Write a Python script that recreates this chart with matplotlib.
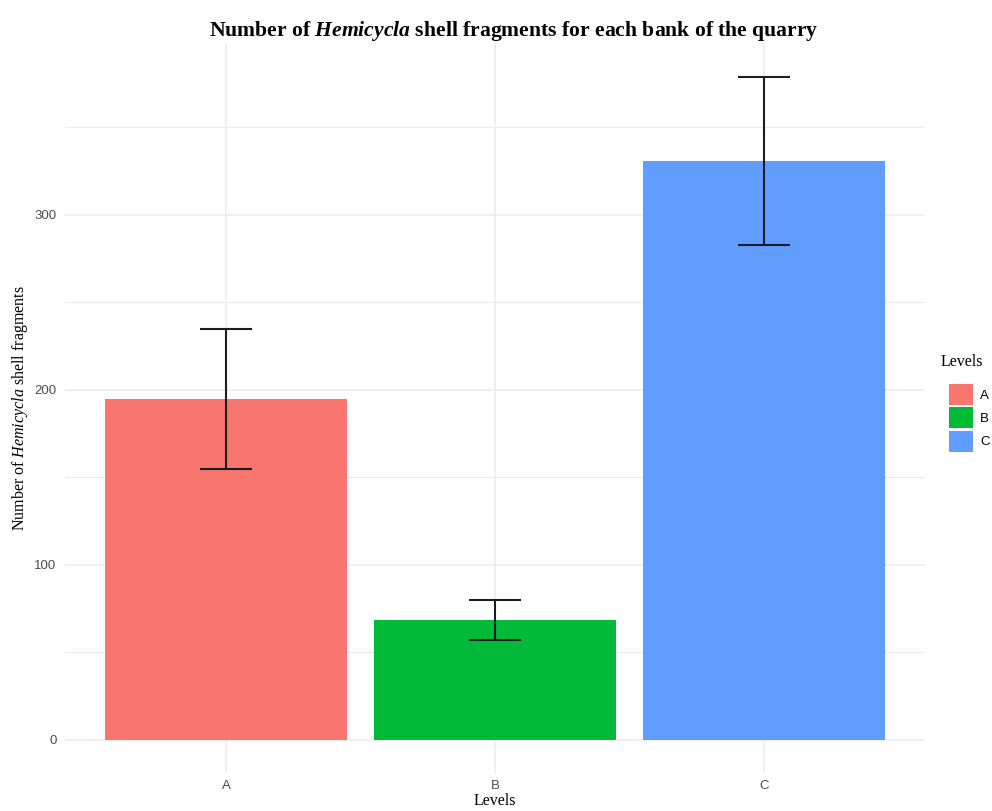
import numpy as np
import matplotlib.pyplot as plt
from matplotlib.patches import Patch

plt.rcParams['font.family'] = ['Liberation Serif', 'DejaVu Serif']
plt.rcParams['mathtext.fontset'] = 'custom'
plt.rcParams['mathtext.rm'] = 'Liberation Serif'
plt.rcParams['mathtext.it'] = 'Liberation Serif:italic'
plt.rcParams['mathtext.bf'] = 'Liberation Serif:bold'
plt.rcParams['mathtext.bfit'] = 'Liberation Serif:italic:bold'

# shell fragment counts per bank, with error half-widths
levels = ['A', 'B', 'C']
counts = [195, 68.5, 331]
errors = [40, 11.5, 48]
colors = ['#F8766D', '#00BA38', '#619CFF']

fig = plt.figure(figsize=(9.92, 8.11), dpi=100)
ax = fig.add_axes([0.0655, 0.0469, 0.867, 0.8995])

x = np.arange(1, len(levels) + 1)
ax.bar(x, counts, width=0.9, color=colors, zorder=2)
ax.errorbar(x, counts, yerr=errors, fmt='none', ecolor='#1c1c28',
            elinewidth=1.5, capsize=19, capthick=1.5, zorder=3)

top = max(c + e for c, e in zip(counts, errors))
ax.set_xlim(0.4, 3.6)
ax.set_ylim(-0.05 * top, 1.05 * top)

ax.set_xticks(x)
ax.set_xticklabels(levels)
ax.set_yticks([0, 100, 200, 300])
ax.set_yticks([50, 150, 250, 350], minor=True)
for lab in ax.get_xticklabels() + ax.get_yticklabels():
    lab.set_family('Liberation Sans')
    lab.set_fontsize(9.5)
    lab.set_color('#4D4D4D')
ax.tick_params(axis='both', which='both', length=0, pad=6)
ax.tick_params(axis='x', pad=5)

ax.grid(True, which='major', color='#EBEBEB', linewidth=1.1, zorder=0)
ax.grid(True, which='minor', axis='y', color='#EBEBEB', linewidth=0.9, zorder=0)
ax.set_axisbelow(True)
for s in ax.spines.values():
    s.set_visible(False)

ax.set_xlabel('Levels', fontsize=11.5, labelpad=1)
ax.set_ylabel(r'Number of $\mathit{Hemicycla}$ shell fragments', fontsize=11.5, labelpad=3)
fig.text(0.5176, 0.962, r'Number of $\mathbfit{Hemicycla}$ shell fragments for each bank of the quarry',
         ha='center', va='center', fontsize=15.6, fontweight='bold')

# legend: title placed on its own, keys below
fig.text(0.9486, 1 - 362 / 811, 'Levels', ha='left', va='center', fontsize=11.5)
handles = [Patch(facecolor=c, edgecolor='none') for c in colors]
fig.legend(handles, levels, loc='upper left',
           bbox_to_anchor=(949 / 992, 1 - 384 / 811), frameon=False,
           borderpad=0, borderaxespad=0,
           handlelength=1.82, handleheight=2.05, handletextpad=0.55,
           labelspacing=0.2, prop={'family': 'Liberation Sans', 'size': 9.5})

fig.savefig('out.png', dpi=100)
